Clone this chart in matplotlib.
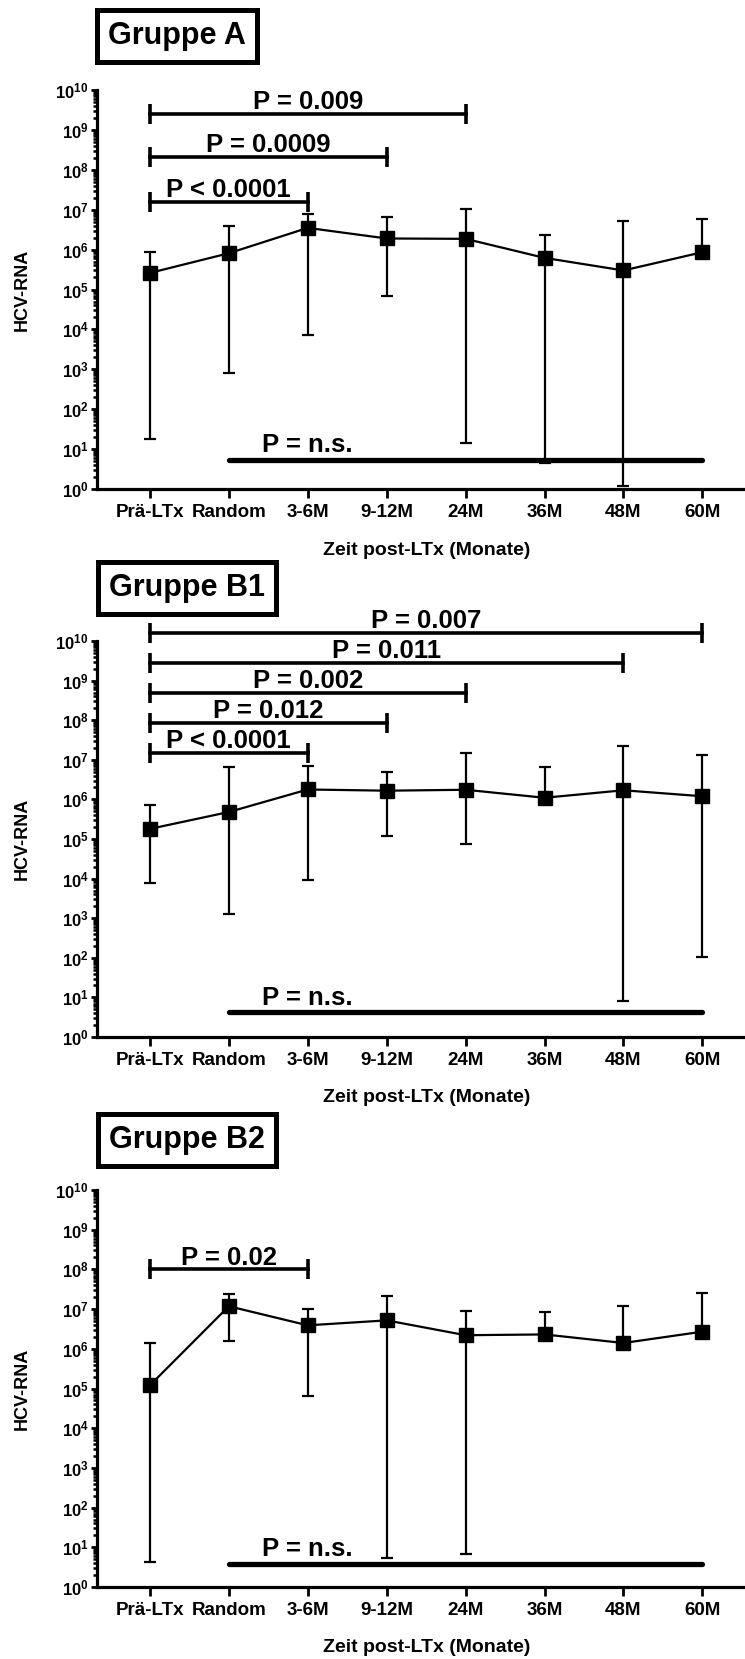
import numpy as np
import matplotlib.pyplot as plt
from matplotlib.ticker import LogLocator, NullFormatter, FixedLocator

plt.rcParams['font.family'] = ['Liberation Sans', 'DejaVu Sans']
plt.rcParams['font.weight'] = 'bold'
plt.rcParams['mathtext.fontset'] = 'custom'
plt.rcParams['mathtext.rm'] = 'Liberation Sans:bold'
plt.rcParams['mathtext.bf'] = 'Liberation Sans:bold'

# categories on the x axis
categories = ['Prä-LTx', 'Random', '3-6M', '9-12M', '24M', '36M', '48M', '60M']

# Gruppe A : median with range
a_mean = [2.6e5, 8.1e5, 3.5e6, 1.9e6, 1.86e6, 6.2e5, 3.0e5, 8.6e5]
a_upper = [8.5e5, 4.0e6, 7.8e6, 6.7e6, 1.07e7, 2.3e6, 5.2e6, 6.0e6]
a_lower = [18, 790, 7.4e3, 7.0e4, 14.5, 4.4, 1.2, 8.6e5]
a_sig_to = [4, 3, 2]
a_sig_y = [2.5e9, 2.1e8, 1.6e7]
a_sig_text = ['P = 0.009', 'P = 0.0009', 'P < 0.0001']
a_ns_y = 5.3

# Gruppe B1
b1_mean = [1.8e5, 4.8e5, 1.78e6, 1.66e6, 1.75e6, 1.1e6, 1.7e6, 1.2e6]
b1_upper = [7.1e5, 6.7e6, 6.8e6, 4.8e6, 1.5e7, 6.6e6, 2.2e7, 1.3e7]
b1_lower = [7.9e3, 1.3e3, 9.3e3, 1.2e5, 7.6e4, 1.1e6, 8.3, 102]
b1_sig_to = [7, 6, 4, 3, 2]
b1_sig_y = [1.6e10, 2.8e9, 5.0e8, 8.7e7, 1.5e7]
b1_sig_text = ['P = 0.007', 'P = 0.011', 'P = 0.002', 'P = 0.012', 'P < 0.0001']
b1_ns_y = 4.2

# Gruppe B2
b2_mean = [1.2e5, 1.18e7, 3.9e6, 5.2e6, 2.2e6, 2.3e6, 1.4e6, 2.7e6]
b2_upper = [1.4e6, 2.4e7, 1.02e7, 2.2e7, 8.9e6, 8.7e6, 1.2e7, 2.6e7]
b2_lower = [4.2, 1.6e6, 6.3e4, 5.5, 6.9, 2.3e6, 1.4e6, 2.7e6]
b2_sig_to = [2]
b2_sig_y = [1.0e8]
b2_sig_text = ['P = 0.02']
b2_ns_y = 3.8

titles = ['Gruppe A', 'Gruppe B1', 'Gruppe B2']

W, H = 745, 1659
fig = plt.figure(figsize=(W / 100, H / 100), dpi=100)

# axes placement in pixels: (top, bottom)
ax_px = [(90, 489), (641, 1037), (1190, 1587)]
box_px = [(177, 36), (187, 588), (187, 1140)]
left_px = 97


def draw_panel(ax, mean, upper, lower, sig_to, sig_y, sig_text, ns_y):
    x = np.arange(len(categories))
    mean = np.array(mean)
    yerr = [mean - np.array(lower), np.array(upper) - mean]
    ax.errorbar(x, mean, yerr=yerr, fmt='s-', color='black', ms=10,
                lw=1.6, elinewidth=1.6, capsize=4.5, capthick=1.6, zorder=3)

    # significance brackets
    for to, y, txt in zip(sig_to, sig_y, sig_text):
        ax.plot([0, to], [y, y], color='black', lw=2.6, clip_on=False)
        ax.plot([0, to], [y, y], ls='none', marker='|', ms=14.5, mew=2.6,
                color='black', clip_on=False)
        ax.annotate(txt, xy=(to / 2, y), xytext=(0, 3.5), textcoords='offset points',
                    ha='center', va='baseline', fontsize=18.5, fontweight='bold',
                    annotation_clip=False)

    ax.plot([1, 7], [ns_y, ns_y], color='black', lw=3.8, solid_capstyle='round')
    ax.annotate('P = n.s.', xy=(2, ns_y), xytext=(0, 5.5), textcoords='offset points',
                ha='center', va='baseline', fontsize=18.5, fontweight='bold')

    ax.set_yscale('log')
    ax.set_ylim(1, 1e10)
    ax.set_xlim(-0.67, 7.54)
    ax.yaxis.set_major_locator(FixedLocator([10.0 ** k for k in range(11)]))
    ax.set_yticklabels([r'$\mathbf{10^{%d}}$' % k for k in range(11)])
    ax.yaxis.set_minor_locator(LogLocator(base=10, subs=np.arange(2, 10), numticks=20))
    ax.yaxis.set_minor_formatter(NullFormatter())
    ax.set_xticks(x)
    ax.set_xticklabels(categories)

    for s in ['top', 'right']:
        ax.spines[s].set_visible(False)
    for s in ['left', 'bottom']:
        ax.spines[s].set_linewidth(2.3)
    ax.tick_params(axis='y', which='major', direction='out', length=4.5, width=2,
                   pad=1.5, labelsize=12)
    ax.tick_params(axis='y', which='minor', direction='out', length=3.2, width=1.8)
    ax.tick_params(axis='x', which='major', direction='out', length=6.5, width=2,
                   pad=4, labelsize=13.5)
    for lab in ax.get_xticklabels():
        lab.set_fontweight('bold')

    ax.set_xlabel('Zeit post-LTx (Monate)', fontsize=14, fontweight='bold', va='center')
    ax.set_ylabel('HCV-RNA', fontsize=13, fontweight='bold', va='center')


panels = [
    (a_mean, a_upper, a_lower, a_sig_to, a_sig_y, a_sig_text, a_ns_y),
    (b1_mean, b1_upper, b1_lower, b1_sig_to, b1_sig_y, b1_sig_text, b1_ns_y),
    (b2_mean, b2_upper, b2_lower, b2_sig_to, b2_sig_y, b2_sig_text, b2_ns_y),
]

for i, data in enumerate(panels):
    top, bot = ax_px[i]
    ax = fig.add_axes([left_px / W, 1 - bot / H, (W - left_px) / W, (bot - top) / H])
    draw_panel(ax, *data)
    hpx = bot - top
    ax.xaxis.set_label_coords((427 - left_px) / (W - left_px), -61 / hpx)
    ax.yaxis.set_label_coords((22 - left_px) / (W - left_px), 0.5)

    bx, by = box_px[i]
    fig.text(bx / W, 1 - by / H, titles[i], fontsize=22, fontweight='bold',
             ha='center', va='center',
             bbox=dict(boxstyle='square,pad=0.36', fc='white', ec='black', lw=3.6))

fig.savefig('out.png', dpi=100)
